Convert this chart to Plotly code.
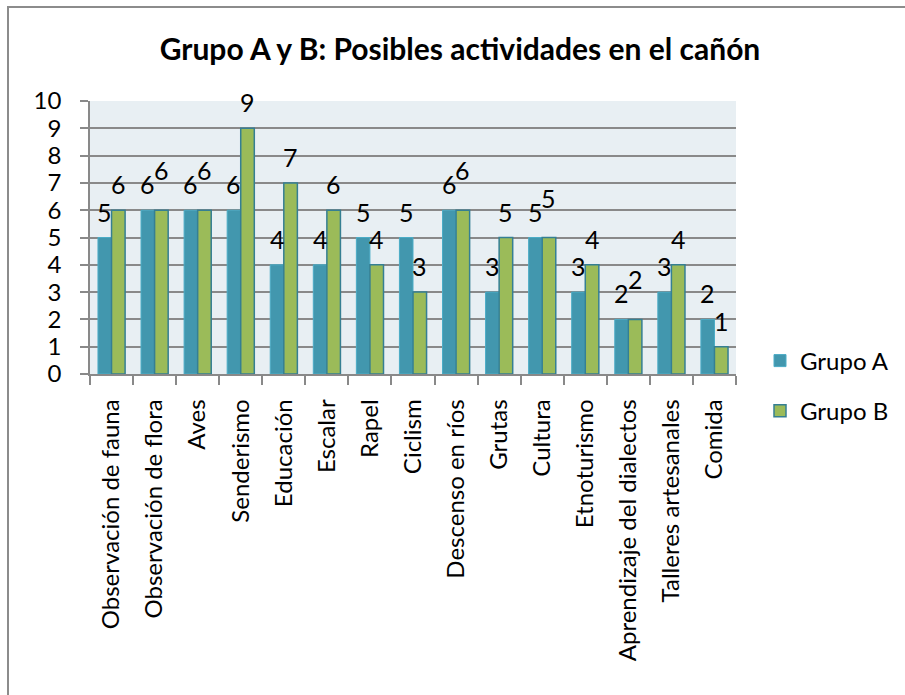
import plotly.graph_objects as go

# Activity categories and survey counts per group
categorias = [
    "Observación de fauna", "Observación de flora", "Aves", "Senderismo",
    "Educación", "Escalar", "Rapel", "Ciclism", "Descenso en ríos", "Grutas",
    "Cultura", "Etnoturismo", "Aprendizaje del dialectos", "Talleres artesanales",
    "Comida",
]
grupo_a = [5, 6, 6, 6, 4, 4, 5, 5, 6, 3, 5, 3, 2, 3, 2]
grupo_b = [6, 6, 6, 9, 7, 6, 4, 3, 6, 5, 5, 4, 2, 4, 1]
y_ticks = list(range(0, 11))

# Layout geometry (pixels)
W, H = 905, 695
L, R, T, B = 90, 169, 101, 321
plot_w = W - L - R
plot_h = H - T - B
bargap = 0.37
cat_px = plot_w / len(categorias)
bar_shift = (1 - bargap) / 4 * cat_px

FONT = "Lato, Calibri, sans-serif"
GRID = "#898989"
COL_A = "#4297AE"
COL_B = "#9BBB59"

fig = go.Figure()
fig.add_trace(go.Bar(
    name="Grupo A", x=categorias, y=grupo_a,
    marker=dict(color=COL_A, line=dict(color="#4BACC6", width=1)),
    legendgroup="a",
))
fig.add_trace(go.Bar(
    name="Grupo B", x=categorias, y=grupo_b,
    marker=dict(color=COL_B, line=dict(color="#357F93", width=1.5)),
    legendgroup="b",
))

# Value labels above each bar; when both groups tie, B's label sits higher
for cat, a, b in zip(categorias, grupo_a, grupo_b):
    fig.add_annotation(x=cat, y=a, text=str(a), showarrow=False,
                       xshift=-bar_shift, yshift=26, yanchor="middle",
                       font=dict(family=FONT, size=25, color="#000000"))
    fig.add_annotation(x=cat, y=b, text=str(b), showarrow=False,
                       xshift=bar_shift, yshift=40 if a == b else 26,
                       yanchor="middle",
                       font=dict(family=FONT, size=25, color="#000000"))

# Outer chart frame
fig.add_shape(type="rect", xref="paper", yref="paper",
              x0=(8 - L) / plot_w, x1=(2000 - L) / plot_w,
              y0=(H - B - 2000) / plot_h, y1=(H - B - 7) / plot_h,
              line=dict(color="#8C8C8C", width=2), fillcolor="rgba(0,0,0,0)",
              layer="below")

fig.update_layout(
    width=W, height=H,
    margin=dict(l=L, r=R, t=T, b=B, autoexpand=False),
    paper_bgcolor="#FFFFFF",
    plot_bgcolor="#E8EFF3",
    barmode="group", bargap=bargap, bargroupgap=0,
    title=dict(text="<b>Grupo A y B: Posibles actividades en el cañón</b>",
               x=460 / W, xanchor="center", y=1 - 49 / H, yanchor="middle",
               font=dict(family=FONT, size=30, color="#000000")),
    showlegend=True,
    legend=dict(x=(760 - L) / plot_w, xanchor="left",
                y=(H - B - 386) / plot_h, yanchor="middle",
                font=dict(family=FONT, size=24, color="#000000"),
                tracegroupgap=16, itemwidth=30, bgcolor="rgba(0,0,0,0)"),
    font=dict(family=FONT, color="#000000"),
)
fig.update_xaxes(
    tickangle=-90, tickfont=dict(family=FONT, size=24, color="#000000"),
    ticks="outside", tickson="boundaries", ticklen=9, tickcolor=GRID,
    tickwidth=1.5, showline=True, linecolor=GRID, linewidth=1.5,
    showgrid=False, ticklabelstandoff=14,
)
fig.update_yaxes(
    range=[0, 10], tickvals=y_ticks, ticktext=[str(v) for v in y_ticks],
    tickfont=dict(family=FONT, size=24, color="#000000"),
    ticks="outside", ticklen=8, tickcolor=GRID, tickwidth=1.5,
    showline=True, linecolor=GRID, linewidth=1.5,
    showgrid=True, gridcolor=GRID, gridwidth=1.5, zeroline=False,
    ticklabelstandoff=14,
)

fig.write_html("out.html")
